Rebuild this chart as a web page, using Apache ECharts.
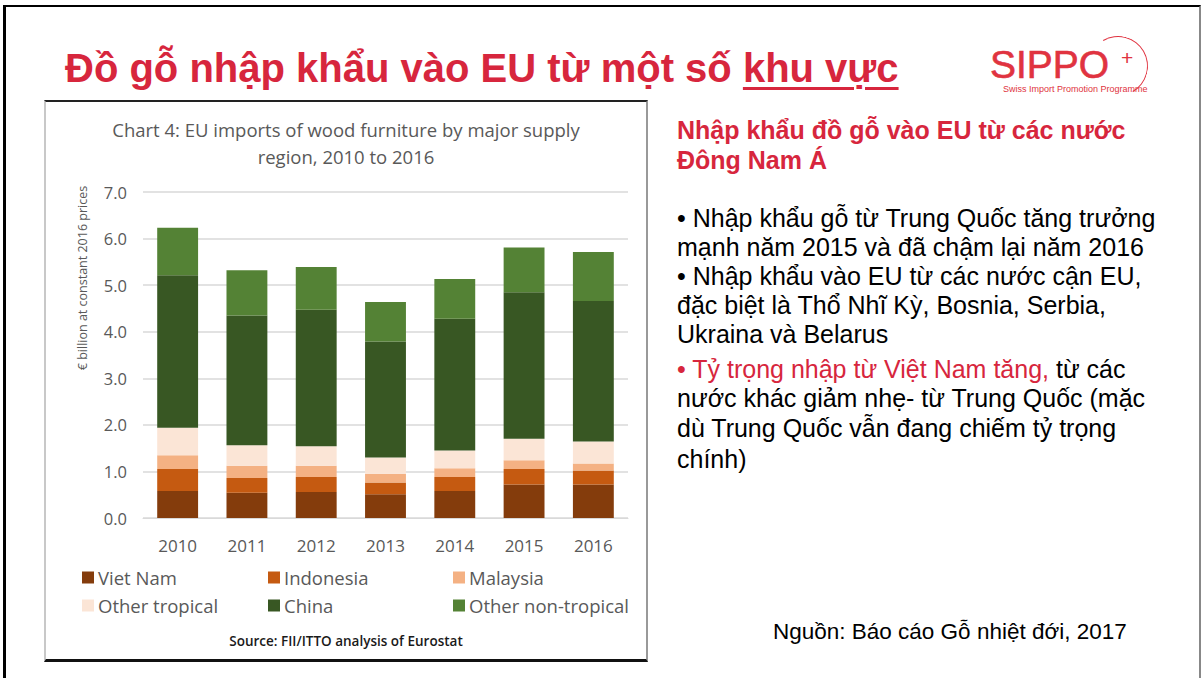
<!DOCTYPE html>
<html>
  <head>
    <meta charset="utf-8" />
    <title>Đồ gỗ nhập khẩu vào EU</title>
    <script src="https://cdn.jsdelivr.net/npm/echarts@6.0.0/dist/echarts.min.js"></script>
    <style>
      html, body { margin: 0; padding: 0; background: #fff; }
      body { width: 1201px; height: 678px; position: relative; overflow: hidden; font-family: "Liberation Sans", Arial, sans-serif; }
      .frame { position: absolute; left: 3px; top: 5px; width: 1193px; height: 680px; border-left: 3px solid #000; border-top: 2px solid #000; border-right: 2px solid #888; }
      .title { position: absolute; left: 65px; top: 44px; font-size: 40px; font-weight: bold; color: #d7263d; white-space: nowrap; line-height: 48px; }
      .title u { text-decoration-thickness: 3px; text-underline-offset: 5px; }
      .logo-text { position: absolute; left: 990px; top: 48px; font-size: 39px; color: #e03340; line-height: 34px; -webkit-text-stroke: 0.6px #e03340; }
      .logo-arc { position: absolute; left: 1088px; top: 36px; width: 58px; height: 58px; border-radius: 50%; border: 1.5px solid; border-color: #e03340 #e03340 transparent transparent; transform: rotate(15deg); }
      .logo-plus { position: absolute; left: 1121px; top: 47px; font-size: 21px; color: #e03340; line-height: 22px; }
      .logo-sub { position: absolute; left: 1003px; top: 85px; font-size: 9px; color: #e03340; white-space: nowrap; line-height: 9px; }
      .chart-box { position: absolute; left: 44px; top: 100px; width: 600px; height: 557px; border-left: 2px solid #c8c8c8; border-top: 2px solid #222; border-right: 2px solid #999; border-bottom: 3px solid #111; }
      #chart { width: 600px; height: 557px; }
      .line { position: absolute; left: 677px; white-space: nowrap; font-size: 25px; line-height: 30px; color: #000; }
      .head { font-weight: bold; color: #d7263d; }
      .red { color: #d7263d; }
      .source { position: absolute; left: 773px; top: 619px; font-size: 22.5px; color: #000; white-space: nowrap; }
    </style>
  </head>
  <body>
    <div class="frame"></div>
    <div class="title">Đồ gỗ nhập khẩu vào EU từ một số <u>khu vực</u></div>

    <div class="logo-text">SIPPO</div>
    <div class="logo-arc"></div>
    <div class="logo-plus">+</div>
    <div class="logo-sub">Swiss Import Promotion Programme</div>

    <div class="chart-box"><div id="chart"></div></div>

    <div class="line head" style="top: 115px">Nhập khẩu đồ gỗ vào EU từ các nước</div>
    <div class="line head" style="top: 145px">Đông Nam Á</div>
    <div class="line" style="top: 203px">• Nhập khẩu gỗ từ Trung Quốc tăng trưởng</div>
    <div class="line" style="top: 232px">mạnh năm 2015 và đã chậm lại năm 2016</div>
    <div class="line" style="top: 261px">• Nhập khẩu vào EU từ các nước cận EU,</div>
    <div class="line" style="top: 290px">đặc biệt là Thổ Nhĩ Kỳ, Bosnia, Serbia,</div>
    <div class="line" style="top: 319px">Ukraina và Belarus</div>
    <div class="line" style="top: 354px"><span class="red">• Tỷ trọng nhập từ Việt Nam tăng,</span> từ các</div>
    <div class="line" style="top: 383px">nước khác giảm nhẹ- từ Trung Quốc (mặc</div>
    <div class="line" style="top: 413px">dù Trung Quốc vẫn đang chiếm tỷ trọng</div>
    <div class="line" style="top: 444px">chính)</div>

    <div class="source">Nguồn: Báo cáo Gỗ nhiệt đới, 2017</div>

    <script type="text/javascript">
      // values, € billion at constant 2016 prices
      const years = ['2010', '2011', '2012', '2013', '2014', '2015', '2016'];
      const vietNam = [0.58, 0.54, 0.56, 0.51, 0.58, 0.72, 0.72];
      const indonesia = [0.47, 0.32, 0.32, 0.25, 0.30, 0.33, 0.30];
      const malaysia = [0.30, 0.26, 0.24, 0.19, 0.19, 0.19, 0.15];
      const otherTropical = [0.59, 0.44, 0.42, 0.35, 0.38, 0.46, 0.47];
      const china = [3.27, 2.79, 2.93, 2.49, 2.83, 3.15, 3.02];
      const otherNonTropical = [1.02, 0.97, 0.92, 0.85, 0.85, 0.96, 1.05];

      const seriesNames = ['Viet Nam', 'Indonesia', 'Malaysia', 'Other tropical', 'China', 'Other non-tropical'];
      const seriesData = [vietNam, indonesia, malaysia, otherTropical, china, otherNonTropical];
      const seriesColors = ['#843c0c', '#c55a11', '#f4b183', '#fbe5d6', '#385723', '#548235'];

      const grey = '#595959';
      const font = '"Open Sans", Lato, sans-serif';

      function legendColumn(names, left) {
        return {
          orient: 'vertical',
          left: left,
          top: 461,
          itemWidth: 12,
          itemHeight: 12,
          itemGap: 9,
          icon: 'rect',
          selectedMode: false,
          data: names,
          textStyle: { color: grey, fontSize: 18.5, fontFamily: font, lineHeight: 17, padding: [0, 0, 0, -1] }
        };
      }

      const myChart = echarts.init(document.getElementById('chart'), null, { renderer: 'svg' });
      myChart.setOption({
        animation: false,
        title: [
          {
            text: 'Chart 4: EU imports of wood furniture by major supply\nregion, 2010 to 2016',
            left: 'center',
            top: 9,
            textStyle: { color: grey, fontSize: 18.5, fontWeight: 'normal', fontFamily: font, lineHeight: 27 }
          },
          {
            text: 'Source: FII/ITTO analysis of Eurostat',
            left: 'center',
            top: 527,
            textStyle: { color: '#1a1a1a', fontSize: 13.5, fontWeight: 600, fontFamily: font }
          }
        ],
        legend: [
          legendColumn(['Viet Nam', 'Other tropical'], 31),
          legendColumn(['Indonesia', 'China'], 217),
          legendColumn(['Malaysia', 'Other non-tropical'], 402)
        ],
        grid: { left: 97, right: 18, top: 90, bottom: 141 },
        xAxis: {
          type: 'category',
          data: years,
          axisTick: { show: false },
          axisLine: { lineStyle: { color: '#d9d9d9' } },
          axisLabel: { color: grey, fontSize: 17, fontFamily: font, margin: 19 }
        },
        yAxis: {
          type: 'value',
          min: 0,
          max: 7,
          interval: 1,
          axisLabel: { color: grey, fontSize: 16.5, fontFamily: font, margin: 16, formatter: v => v.toFixed(1) },
          splitLine: { lineStyle: { color: '#d9d9d9', width: 1.5 } }
        },
        graphic: [
          {
            type: 'text',
            x: 36,
            y: 176,
            rotation: Math.PI / 2,
            style: {
              text: '€ billion at constant 2016 prices',
              fill: grey,
              fontSize: 12.5,
              fontFamily: font,
              align: 'center',
              verticalAlign: 'middle'
            }
          }
        ],
        series: seriesNames.map((name, i) => ({
          name: name,
          type: 'bar',
          stack: 'total',
          barWidth: '59%',
          data: seriesData[i],
          itemStyle: { color: seriesColors[i] }
        }))
      });
    </script>
  </body>
</html>
